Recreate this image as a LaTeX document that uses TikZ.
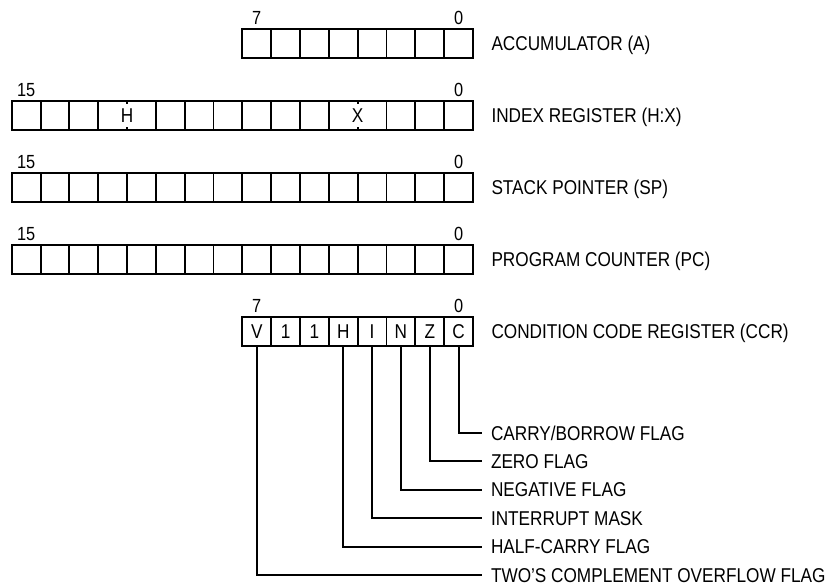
\documentclass[tikz,border=0pt]{standalone}
\usepackage{fontspec}
\setmainfont{Liberation Sans}[FakeStretch=0.86]
\begin{document}
\begin{tikzpicture}[x=1pt,y=-1pt,line width=1.9pt,
  regbox/.style={draw, rectangle, minimum height=28.8pt, inner sep=0pt, outer sep=0pt},
  celltxt/.style={inner sep=0pt, outer sep=0pt, minimum width=28.83pt, minimum height=28.8pt,
    font=\fontsize{20}{21}\selectfont, text height=14.3pt, text depth=0pt},
  lbl/.style={inner sep=0pt, outer sep=0pt, anchor=west,
    font=\fontsize{20}{21}\selectfont, text height=14.3pt, text depth=0pt},
  dig/.style={inner sep=0pt, outer sep=0pt,
    font=\fontsize{19}{20}\selectfont, text height=13.6pt, text depth=0pt},
  flagline/.style={line width=1.9pt, shorten >=9pt}]
\useasboundingbox (0,0) rectangle (834,588);

% Accumulator
\node[regbox, minimum width=230.64pt, anchor=north east] (acc) at (473,29) {};
\foreach \i in {1,...,7}
  \draw ([xshift=\i*28.83pt]acc.north west) -- ([xshift=\i*28.83pt]acc.south west);
\node[dig] (acc7) at ([xshift=14.4pt,yshift=11.5pt]acc.north west) {7};
\node[dig] (acc0) at ([xshift=-14.4pt,yshift=11.5pt]acc.north east) {0};
\node[lbl] (accl) at ([xshift=18.5pt]acc.east) {ACCUMULATOR (A)};

% Index register
\node[regbox, minimum width=461.28pt, anchor=north east] (idx) at (473,101) {};
\foreach \i in {1,2,3,5,6,7,8,9,10,11,13,14,15}
  \draw ([xshift=\i*28.83pt]idx.north west) -- ([xshift=\i*28.83pt]idx.south west);
\foreach \i in {4,12} {
  \draw ([xshift=\i*28.83pt]idx.north west) -- ++(0,3);
  \draw ([xshift=\i*28.83pt]idx.south west) -- ++(0,-3);
}
\node[celltxt] (idxh) at ([xshift=4*28.83pt]idx.west) {H};
\node[celltxt] (idxx) at ([xshift=12*28.83pt]idx.west) {X};
\node[dig] (idx15) at ([xshift=14.4pt,yshift=11.5pt]idx.north west) {15};
\node[dig] (idx0) at ([xshift=-14.4pt,yshift=11.5pt]idx.north east) {0};
\node[lbl] (idxl) at ([xshift=18.5pt]idx.east) {INDEX REGISTER (H:X)};

% Stack pointer
\node[regbox, minimum width=461.28pt, anchor=north east] (sp) at (473,173) {};
\foreach \i in {1,...,15}
  \draw ([xshift=\i*28.83pt]sp.north west) -- ([xshift=\i*28.83pt]sp.south west);
\node[dig] (sp15) at ([xshift=14.4pt,yshift=11.5pt]sp.north west) {15};
\node[dig] (sp0) at ([xshift=-14.4pt,yshift=11.5pt]sp.north east) {0};
\node[lbl] (spl) at ([xshift=18.5pt]sp.east) {STACK POINTER (SP)};

% Program counter
\node[regbox, minimum width=461.28pt, anchor=north east] (pc) at (473,245) {};
\foreach \i in {1,...,15}
  \draw ([xshift=\i*28.83pt]pc.north west) -- ([xshift=\i*28.83pt]pc.south west);
\node[dig] (pc15) at ([xshift=14.4pt,yshift=11.5pt]pc.north west) {15};
\node[dig] (pc0) at ([xshift=-14.4pt,yshift=11.5pt]pc.north east) {0};
\node[lbl] (pcl) at ([xshift=18.5pt]pc.east) {PROGRAM COUNTER (PC)};

% Condition code register
\node[regbox, minimum width=230.64pt, anchor=north east] (ccr) at (473,317) {};
\foreach \i in {1,...,7}
  \draw ([xshift=\i*28.83pt]ccr.north west) -- ([xshift=\i*28.83pt]ccr.south west);
\foreach \t/\n [count=\i from 0] in {V/v,1/a,1/b,H/h,I/i,N/n,Z/z,C/c}
  \node[celltxt, anchor=west] (c\n) at ([xshift=\i*28.83pt]ccr.west) {\t};
\node[dig] (ccr7) at ([xshift=14.4pt,yshift=11.5pt]ccr.north west) {7};
\node[dig] (ccr0) at ([xshift=-14.4pt,yshift=11.5pt]ccr.north east) {0};
\node[lbl] (ccrl) at ([xshift=18.5pt]ccr.east) {CONDITION CODE REGISTER (CCR)};

% Flag labels
\node[lbl] (fc) at (491,433) {CARRY/BORROW FLAG};
\node[lbl] (fz) at (491,461.4) {ZERO FLAG};
\node[lbl] (fn) at (491,489.8) {NEGATIVE FLAG};
\node[lbl] (fi) at (491,518.2) {INTERRUPT MASK};
\node[lbl] (fh) at (491,546.6) {HALF-CARRY FLAG};
\node[lbl] (fv) at (491,575) {TWO’S COMPLEMENT OVERFLOW FLAG};

\draw[flagline] (cc.south) |- (fc.west);
\draw[flagline] (cz.south) |- (fz.west);
\draw[flagline] (cn.south) |- (fn.west);
\draw[flagline] (ci.south) |- (fi.west);
\draw[flagline] (ch.south) |- (fh.west);
\draw[flagline] (cv.south) |- (fv.west);
\end{tikzpicture}
\end{document}
